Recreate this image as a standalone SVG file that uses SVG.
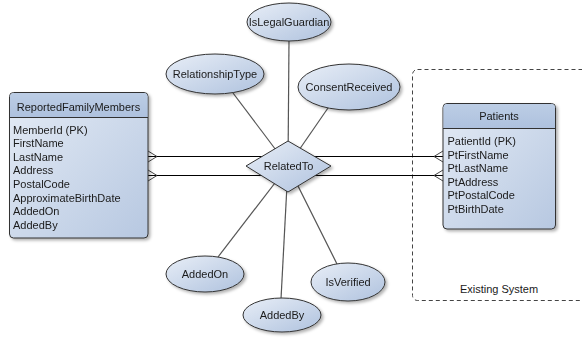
<svg xmlns="http://www.w3.org/2000/svg" width="582" height="339" viewBox="0 0 582 339">
<defs>
<linearGradient id="gBox" x1="0" y1="0" x2="1" y2="1">
<stop offset="0" stop-color="#e4ebf5"/>
<stop offset="1" stop-color="#b7c8e1"/>
</linearGradient>
<linearGradient id="gHead" x1="0" y1="0" x2="0" y2="1">
<stop offset="0" stop-color="#bccde5"/>
<stop offset="1" stop-color="#aec1de"/>
</linearGradient>
<linearGradient id="gEll" x1="0" y1="0" x2="1" y2="1">
<stop offset="0" stop-color="#e8eef7"/>
<stop offset="1" stop-color="#afc2de"/>
</linearGradient>
<filter id="sh" x="-20%" y="-20%" width="150%" height="150%">
<feDropShadow dx="2" dy="2" stdDeviation="1.5" flood-color="#000" flood-opacity="0.3"/>
</filter>
</defs>
<style>
text{font-family:"Liberation Sans",Arial,sans-serif;font-size:11px;fill:#1a1a1a}
.c{text-anchor:middle}
.ent{fill:url(#gBox);stroke:#333;stroke-width:1}
.hd{fill:url(#gHead)}
.ell{fill:url(#gEll);stroke:#333;stroke-width:1}
.ln{stroke:#555;stroke-width:1.2;fill:none}
.rel{stroke:#000;stroke-width:1;fill:none}
.crow{stroke:#444;stroke-width:1;fill:none}
</style>
<rect width="582" height="339" fill="#fff"/>

<g id="existing-system">
<rect x="412.5" y="69.5" width="190" height="231" rx="5" fill="none" stroke="#444" stroke-width="1" stroke-dasharray="4,3"/>
<text class="c" x="499" y="293">Existing System</text>
</g>

<g id="connectors">
<line class="ln" x1="288" y1="166" x2="289" y2="40"/>
<line class="ln" x1="288" y1="166" x2="233" y2="93"/>
<line class="ln" x1="288" y1="166" x2="328" y2="108"/>
<line class="ln" x1="288" y1="166" x2="218" y2="257"/>
<line class="ln" x1="288" y1="166" x2="281" y2="299"/>
<line class="ln" x1="288" y1="166" x2="337" y2="264"/>
<line class="rel" x1="148" y1="156.5" x2="443" y2="156.5"/>
<line class="rel" x1="148" y1="175.5" x2="443" y2="175.5" stroke="#555"/>
<polyline class="crow" points="148,151 157,156.5 148,162"/>
<polyline class="crow" points="148,170 157,175.5 148,181"/>
<polyline class="crow" points="443,151 434,156.5 443,162"/>
<polyline class="crow" points="443,170 434,175.5 443,181"/>
</g>

<g id="ReportedFamilyMembers" filter="url(#sh)">
<rect class="ent" x="9.5" y="92.5" width="138.5" height="145.5" rx="4"/>
<path class="hd" d="M10,117 V96.5 Q10,93 13.5,93 H144 Q147.5,93 147.5,96.5 V117 Z"/>
<line x1="9.5" y1="117.5" x2="148" y2="117.5" stroke="#333" stroke-width="1"/>
<text class="c" x="78.5" y="111">ReportedFamilyMembers</text>
<text x="13" y="133.5">MemberId (PK)</text>
<text x="13" y="147.1">FirstName</text>
<text x="13" y="160.7">LastName</text>
<text x="13" y="174.3">Address</text>
<text x="13" y="187.9">PostalCode</text>
<text x="13" y="201.5">ApproximateBirthDate</text>
<text x="13" y="215.1">AddedOn</text>
<text x="13" y="228.7">AddedBy</text>
</g>

<g id="Patients" filter="url(#sh)">
<rect class="ent" x="443" y="103.5" width="112.5" height="125.5" rx="4"/>
<path class="hd" d="M443.5,128 V107.5 Q443.5,104 447,104 H551.5 Q555,104 555,107.5 V128 Z"/>
<line x1="443" y1="128.5" x2="555.5" y2="128.5" stroke="#333" stroke-width="1"/>
<text class="c" x="499" y="120">Patients</text>
<text x="447.5" y="145">PatientId (PK)</text>
<text x="447.5" y="158.6">PtFirstName</text>
<text x="447.5" y="172.2">PtLastName</text>
<text x="447.5" y="185.8">PtAddress</text>
<text x="447.5" y="199.4">PtPostalCode</text>
<text x="447.5" y="213">PtBirthDate</text>
</g>

<g id="RelatedTo" filter="url(#sh)">
<polygon points="246,166 288,141 331,166 288,192" fill="url(#gEll)" stroke="#333" stroke-width="1"/>
<text class="c" x="288.5" y="170">RelatedTo</text>
</g>

<g id="IsLegalGuardian" filter="url(#sh)">
<ellipse class="ell" cx="289" cy="22" rx="42" ry="19"/>
<text class="c" x="289" y="26">IsLegalGuardian</text>
</g>
<g id="RelationshipType" filter="url(#sh)">
<ellipse class="ell" cx="215" cy="74" rx="49" ry="20"/>
<text class="c" x="215" y="78">RelationshipType</text>
</g>
<g id="ConsentReceived" filter="url(#sh)">
<ellipse class="ell" cx="349" cy="87" rx="51" ry="23"/>
<text class="c" x="349" y="91">ConsentReceived</text>
</g>
<g id="AddedOn" filter="url(#sh)">
<ellipse class="ell" cx="205" cy="274" rx="39" ry="18"/>
<text class="c" x="205" y="278">AddedOn</text>
</g>
<g id="AddedBy" filter="url(#sh)">
<ellipse class="ell" cx="282" cy="315" rx="39" ry="17"/>
<text class="c" x="282" y="319">AddedBy</text>
</g>
<g id="IsVerified" filter="url(#sh)">
<ellipse class="ell" cx="348" cy="282" rx="37" ry="19"/>
<text class="c" x="348" y="286">IsVerified</text>
</g>
</svg>
